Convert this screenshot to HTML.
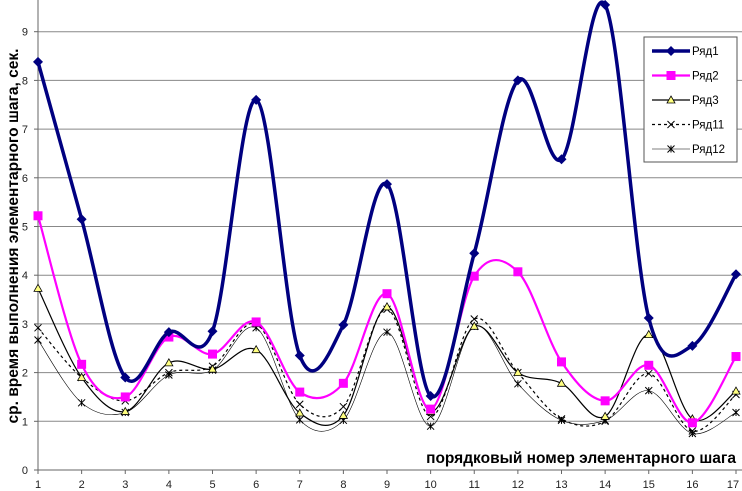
<!DOCTYPE html>
<html><head><meta charset="utf-8"><style>
body{margin:0;background:#fff;}
svg{display:block;font-family:"Liberation Sans",sans-serif;}
</style></head><body>
<svg id="c" width="742" height="491"></svg>
<script>
const categories=[1,2,3,4,5,6,7,8,9,10,11,12,13,14,15,16,17];
const yTicks=[0,1,2,3,4,5,6,7,8,9];
const seriesNames=["Ряд1","Ряд2","Ряд3","Ряд11","Ряд12"];
const s1=[8.38,5.15,1.9,2.83,2.85,7.6,2.35,2.98,5.87,1.52,4.45,8.0,6.38,9.55,3.12,2.55,4.02];
const s2=[5.22,2.17,1.5,2.73,2.38,3.04,1.6,1.78,3.62,1.25,3.98,4.07,2.22,1.42,2.15,0.97,2.33];
const s3=[3.73,1.9,1.2,2.2,2.07,2.47,1.17,1.12,3.35,1.2,2.95,2.0,1.78,1.1,2.78,1.05,1.62];
const s11=[2.92,1.9,1.42,2.0,2.13,3.0,1.35,1.3,3.3,1.1,3.1,2.0,1.05,1.0,1.98,0.8,1.55];
const s12=[2.67,1.38,1.18,1.95,2.05,2.92,1.03,1.02,2.83,0.9,2.95,1.77,1.02,1.02,1.63,0.75,1.18];
const NS="http://www.w3.org/2000/svg";
const svg=document.getElementById('c');
const X0=38,X1=736,Y0=470,PU=48.7;
const xs=i=>X0+(X1-X0)*i/(categories.length-1);
const ys=v=>Y0-v*PU;
function el(t,a,p){const e=document.createElementNS(NS,t);for(const k in a)e.setAttribute(k,a[k]);(p||svg).appendChild(e);return e;}
yTicks.forEach(t=>{
  if(t>0){const g=el('line',{x1:X0,x2:742,y1:ys(t),y2:ys(t),stroke:'#888','stroke-width':1});
  
  }
  el('line',{x1:X0-4,x2:X0,y1:ys(t),y2:ys(t),stroke:'#666'});
  const l=el('text',{x:X0-10,y:ys(t)+4,'text-anchor':'end','font-size':11,fill:'#222'});l.textContent=t;
  
  
});
const ax=el('line',{x1:X0,x2:X0,y1:0,y2:Y0,stroke:'#666'});


const bx=el('line',{x1:X0,x2:742,y1:Y0,y2:Y0,stroke:'#666'});


categories.forEach((c,i)=>{
  el('line',{x1:xs(i),x2:xs(i),y1:Y0,y2:Y0+4,stroke:'#666'});
  const l=el('text',{x:xs(i)-(i==16?3:0),y:Y0+18,'text-anchor':'middle','font-size':11,fill:'#222'});l.textContent=c;
  
  
});
const yt=el('text',{x:0,y:0,transform:'translate(18,236) rotate(-90)','text-anchor':'middle','font-size':15.5,'font-weight':'bold',fill:'#000'});
yt.textContent='ср. время выполнения элементарного шага, сек.';


const xt=el('text',{x:736,y:463,'text-anchor':'end','font-size':15.5,'font-weight':'bold',fill:'#000'});
xt.textContent='порядковый номер элементарного шага';


function path(vals){
  const p=vals.map((v,i)=>[xs(i),ys(v)]);
  let d='M'+p[0][0]+','+p[0][1];
  for(let i=0;i<p.length-1;i++){
    const a=p[Math.max(0,i-1)],b=p[i],c=p[i+1],e=p[Math.min(p.length-1,i+2)];
    const k=1/6;
    d+=' C'+(b[0]+(c[0]-a[0])*k)+','+(b[1]+(c[1]-a[1])*k)+' '+(c[0]-(e[0]-b[0])*k)+','+(c[1]-(e[1]-b[1])*k)+' '+c[0]+','+c[1];
  }
  return d;
}
function marker(type,x,y,g,size){
  if(type=='diamond')return el('polygon',{points:`${x},${y-5} ${x+5},${y} ${x},${y+5} ${x-5},${y}`,fill:'#000080'},g);
  if(type=='square')return el('rect',{x:x-4.5,y:y-4.5,width:9,height:9,fill:'#ff00ff'},g);
  if(type=='tri')return el('polygon',{points:`${x},${y-4} ${x+4},${y+3} ${x-4},${y+3}`,fill:'#ffff80',stroke:'#000','stroke-width':0.8},g);
  const s=size||3.5;
  return el('path',{d:`M${x-s},${y-s}L${x+s},${y+s}M${x+s},${y-s}L${x-s},${y+s}`+(type=='star'?`M${x},${y-s}L${x},${y+s}`:''),stroke:'#000','stroke-width':1},g);
}
const cfg=[
 {v:s12,stroke:'#000',w:0.6,dash:null,m:'star'},
 {v:s11,stroke:'#000',w:1.2,dash:'3,3',m:'x'},
 {v:s3,stroke:'#000',w:1.2,dash:null,m:'tri'},
 {v:s2,stroke:'#ff00ff',w:2.2,dash:null,m:'square'},
 {v:s1,stroke:'#000080',w:3.5,dash:null,m:'diamond'}];
const names=['series-ryad12','series-ryad11','series-ryad3','series-ryad2','series-ryad1'];
cfg.forEach((c,ci)=>{
  const g=el('g',{});
  
  
  const a={d:path(c.v),fill:'none',stroke:c.stroke,'stroke-width':c.w};
  if(c.dash)a['stroke-dasharray']=c.dash;
  el('path',a,g);
  c.v.forEach((v,i)=>marker(c.m,xs(i),ys(v),g));
});
const lg=el('g',{});


el('rect',{x:644,y:37,width:93,height:125,fill:'#fff',stroke:'#555'},lg);
const lcfg=[cfg[4],cfg[3],cfg[2],cfg[1],cfg[0]];
seriesNames.forEach((n,i)=>{
  const y=51+i*24.5,c=lcfg[i];
  const e=el('g',{},lg);
  
  
  const a={x1:652,x2:690,y1:y,y2:y,stroke:c.stroke,'stroke-width':c.w};
  if(c.dash)a['stroke-dasharray']=c.dash;
  el('line',a,e);
  marker(c.m,671,y,e);
  const t=el('text',{x:692,y:y+4,'font-size':11.5,fill:'#000'},e);t.textContent=n;
});
</script>
</body></html>
